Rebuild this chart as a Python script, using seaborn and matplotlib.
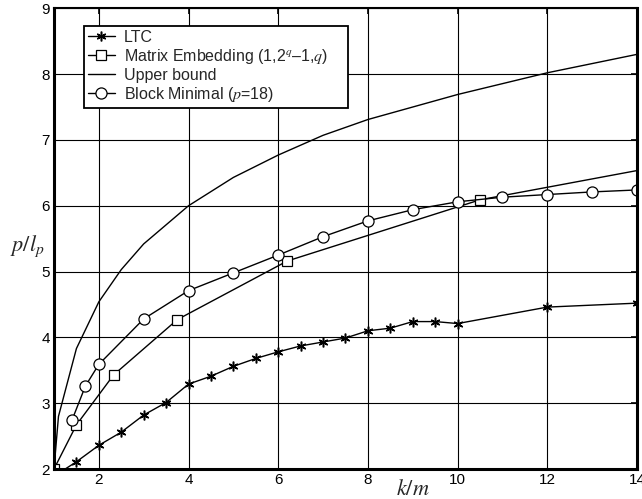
"""Embedding efficiency p/l_p against k/m for LTC, matrix embedding and block minimal codes."""
import matplotlib
matplotlib.use("Agg")
import matplotlib.pyplot as plt
import seaborn as sns

# values
ltc_x = [1.25, 1.5, 2, 2.5, 3, 3.5, 4, 4.5, 5, 5.5, 6, 6.5, 7, 7.5, 8, 8.5, 9, 9.5, 10, 12, 14]
ltc_y = [2.0, 2.11, 2.36, 2.56, 2.82, 3.01, 3.29, 3.41, 3.56, 3.68, 3.78, 3.87, 3.93, 3.99, 4.10,
         4.14, 4.24, 4.24, 4.21, 4.46, 4.52]

matrix_x = [1, 1.5, 2.33, 3.75, 6.2, 10.5, 18.14]
matrix_y = [2.0, 2.67, 3.43, 4.27, 5.16, 6.09, 7.06]

bound_x = [1, 1.1, 1.5, 2, 2.5, 3, 3.5, 4, 5, 6, 7, 8, 10, 12, 14]
bound_y = [2.0, 2.80, 3.83, 4.54, 5.03, 5.42, 5.71, 6.0, 6.43, 6.77, 7.07, 7.31, 7.69, 8.02, 8.30]

block_x = [1.4, 1.7, 2, 3, 4, 5, 6, 7, 8, 9, 10, 11, 12, 13, 14]
block_y = [2.74, 3.26, 3.59, 4.28, 4.71, 4.98, 5.25, 5.53, 5.77, 5.94, 6.06, 6.13, 6.17, 6.21, 6.24]

x_ticks = [2, 4, 6, 8, 10, 12, 14]
y_ticks = [2, 3, 4, 5, 6, 7, 8, 9]

sns.set_style("white")
plt.rcParams["font.family"] = ["Liberation Sans", "DejaVu Sans"]
plt.rcParams["mathtext.fontset"] = "stix"

fig = plt.figure(figsize=(6.42, 4.99), dpi=100)
ax = fig.add_axes([0.0841, 0.0601, 0.9081, 0.9233])

line_kw = dict(color="k", lw=1, linestyle="-", dashes=False)
# first LTC point sits on the axis with no marker shown
sns.lineplot(x=ltc_x, y=ltc_y, ax=ax, marker=(6, 2, 0), markersize=7, markeredgewidth=1.1,
             markeredgecolor="k", markevery=list(range(1, len(ltc_x))), label="LTC", **line_kw)
sns.lineplot(x=matrix_x, y=matrix_y, ax=ax, marker="s", markersize=7,
             markerfacecolor="white", markeredgecolor="k", markeredgewidth=0.9,
             label="Matrix Embedding (1,2$^{q}$\u20131,$q$)", **line_kw)
sns.lineplot(x=bound_x, y=bound_y, ax=ax, label="Upper bound", **line_kw)
sns.lineplot(x=block_x, y=block_y, ax=ax, marker="o", markersize=8,
             markerfacecolor="white", markeredgecolor="k", markeredgewidth=0.9,
             label="Block Minimal ($p$=18)", **line_kw)

ax.set_xlim(1, 14)
ax.set_ylim(2, 9)
ax.set_xticks(x_ticks)
ax.set_yticks(y_ticks)
ax.tick_params(direction="in", length=4, width=1.2, labelsize=11, colors="k",
               top=True, right=True, pad=3)
ax.grid(True, color="k", lw=0.8)

for side in ["left", "bottom", "right"]:
    ax.spines[side].set_linewidth(2.2)
    ax.spines[side].set_color("k")
ax.spines["top"].set_linewidth(1.5)
ax.spines["top"].set_color("k")

ax.set_xlabel("")
ax.set_ylabel("")
ax.text(0.616, -0.045, "$k/m$", transform=ax.transAxes, fontsize=16, ha="center", va="center")
ax.text(-0.045, 0.484, "$p/l_p$", transform=ax.transAxes, fontsize=16, ha="center", va="center")

# legend box is wider than its text, as in the reference
leg = ax.legend(loc="upper left", bbox_to_anchor=(0.051, 0.0, 0.453, 0.962), mode="expand",
                fontsize=11.5, frameon=True, fancybox=False, shadow=False, framealpha=1,
                edgecolor="k", handlelength=1.7, handletextpad=0.55, labelspacing=0.12,
                borderpad=0.25, borderaxespad=0)
leg.get_frame().set_linewidth(1.3)

fig.savefig("out.png", dpi=100)
plt.close(fig)
